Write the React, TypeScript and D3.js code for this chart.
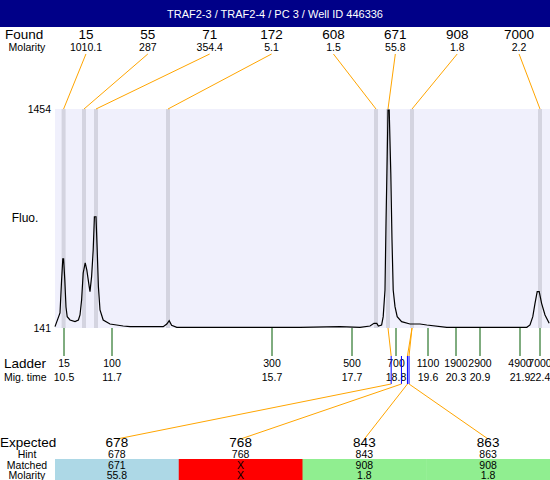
import React from "react";
import * as d3 from "d3";

const title = "TRAF2-3 / TRAF2-4 / PC 3 / Well ID 446336";
const foundSizes = ["15", "55", "71", "172", "608", "671", "908", "7000"];
const foundMolarity = ["1010.1", "287", "354.4", "5.1", "1.5", "55.8", "1.8", "2.2"];
const foundTimes = [10.49, 11.0, 11.3, 13.1, 18.3, 18.6, 19.2, 22.4];

const ladderSizes = [15, 100, 300, 500, 700, 1100, 1900, 2900, 4900, 7000];
const ladderTimes = [10.5, 11.7, 15.7, 17.7, 18.8, 19.6, 20.3, 20.9, 21.9, 22.4];
const ladderTimeLabels = ["10.5", "11.7", "15.7", "17.7", "18.8", "19.6", "20.3", "20.9", "21.9", "22.4"];

const expectedSizes = [678, 768, 843, 863];
const hintLabels = ["678", "768", "843", "863"];
const matchedLabels = ["671", "X", "908", "908"];
const matchedMolarity = ["55.8", "X", "1.8", "1.8"];
const matchedFoundIndex = [5, -1, 6, 6];
const matchColors = ["#ADD8E6", "#FF0000", "#90EE90", "#90EE90"];

const yTicks = [141, 1454];

const traceTimes = [
  10.275, 10.4, 10.44, 10.47, 10.49, 10.52, 10.55, 10.58, 10.65, 10.775, 10.86, 10.9, 10.94, 10.98,
  11.03, 11.07, 11.13, 11.15, 11.19, 11.23, 11.26, 11.3, 11.33, 11.36, 11.4, 11.48, 11.65, 11.98,
  12.15, 12.98, 13.07, 13.13, 13.19, 13.32, 13.9, 16.4, 17.4, 17.9, 18.15, 18.25, 18.32, 18.36,
  18.44, 18.48, 18.525, 18.55, 18.58, 18.6, 18.63, 18.67, 18.7, 18.73, 18.775, 18.83, 18.94, 19.15,
  19.4, 19.57, 20.07, 21.23, 22.07, 22.15, 22.22, 22.275, 22.33, 22.38, 22.44, 22.525, 22.63,
];
const traceFluo = [
  149, 231, 429, 555, 555, 429, 267, 209, 189, 179, 189, 219, 309, 471,
  531, 489, 389, 359, 449, 609, 808, 808, 609, 389, 249, 189, 165, 153,
  149, 149, 165, 185, 157, 145, 145, 145, 149, 145, 153, 169, 169, 153,
  159, 209, 369, 769, 1168, 1448, 1448, 1068, 669, 369, 269, 209, 179, 165,
  165, 159, 145, 145, 145, 159, 209, 289, 359, 359, 289, 219, 169,
];

const W = 550;
const H = 480;
const FONT = "'Liberation Sans', Arial, sans-serif";

export default function App() {
  const plotL = 55, plotR = 550, plotT = 109, plotB = 328;
  const x = d3.scaleLinear().domain([10.275, 22.65]).range([plotL, plotR]);
  const y = d3.scaleLinear().domain([141, 1454]).range([plotB, plotT]);
  const sizeToTime = d3.scaleLinear().domain(ladderSizes).range(ladderTimes);
  const foundBand = d3.scaleBand<number>().domain(d3.range(foundSizes.length)).range([plotL, plotR]);
  const expBand = d3.scaleBand<number>().domain(d3.range(expectedSizes.length)).range([plotL, plotR]);

  const pts: [number, number][] = traceTimes.map((t, i) => [t, traceFluo[i]]);
  const line = d3.line<[number, number]>().x((d) => x(d[0])).y((d) => y(d[1]));

  const blueTop = 356, blueBot = 384;
  const tableTop = 459;

  return (
    <svg width={W} height={H} style={{ position: "absolute", left: 0, top: 0, fontFamily: FONT }}>
      <rect x={0} y={0} width={W} height={H} fill="#fff" />
      <rect x={0} y={0} width={W} height={27} fill="#000088" />
      <text x={275} y={18} fill="#fff" fontSize={11} textAnchor="middle">{title}</text>

      <text x={5} y={39} fontSize={13.5}>Found</text>
      <text x={27} y={50.5} fontSize={10.5} textAnchor="middle">Molarity</text>
      {foundSizes.map((s, i) => {
        const cx = foundBand(i)! + foundBand.bandwidth() / 2;
        return (
          <g key={"f" + i}>
            <text x={cx} y={39} fontSize={13.5} textAnchor="middle">{s}</text>
            <text x={cx} y={50.5} fontSize={10.5} textAnchor="middle">{foundMolarity[i]}</text>
          </g>
        );
      })}

      <rect x={plotL} y={plotT} width={plotR - plotL} height={plotB - plotT} fill="#F0F0FC" />
      {foundTimes.map((t, i) => (
        <rect key={"b" + i} x={x(t) - 2} y={plotT} width={4} height={plotB - plotT} fill="#D4D4E0" />
      ))}
      <path d={line(pts)!} fill="none" stroke="#000" strokeWidth={1.2} />

      {foundTimes.map((t, i) => {
        const cx = foundBand(i)! + foundBand.bandwidth() / 2;
        return <line key={"o" + i} x1={cx} y1={54} x2={x(t)} y2={plotT} stroke="#FFA500" strokeWidth={1} />;
      })}

      {yTicks.map((v) => (
        <text key={"y" + v} x={51} y={y(v) + 4} fontSize={10.5} textAnchor="end">{v}</text>
      ))}
      <text x={25} y={222} fontSize={12} textAnchor="middle">Fluo.</text>

      {ladderTimes.map((t, i) => (
        <g key={"l" + i}>
          <line x1={x(t)} y1={plotB} x2={x(t)} y2={356} stroke="#005A00" strokeWidth={1} />
          <text x={x(t)} y={367} fontSize={10.5} textAnchor="middle">{ladderSizes[i]}</text>
          <text x={x(t)} y={381} fontSize={10.5} textAnchor="middle">{ladderTimeLabels[i]}</text>
        </g>
      ))}
      <text x={4} y={368} fontSize={13.5}>Ladder</text>
      <text x={4} y={381} fontSize={10.5}>Mig. time</text>

      {expectedSizes.map((s, i) => {
        const ex = x(sizeToTime(s));
        const cx = expBand(i)! + expBand.bandwidth() / 2;
        const fi = matchedFoundIndex[i];
        return (
          <g key={"e" + i}>
            {fi >= 0 && (
              <line x1={x(foundTimes[fi])} y1={plotB} x2={ex} y2={blueTop} stroke="#FFA500" strokeWidth={1} />
            )}
            <line x1={ex} y1={blueTop} x2={ex} y2={blueBot} stroke="#0000FF" strokeWidth={1} />
            <line x1={ex} y1={blueBot} x2={cx} y2={439} stroke="#FFA500" strokeWidth={1} />
          </g>
        );
      })}

      <text x={0} y={447} fontSize={13.5}>Expected</text>
      <text x={27} y={458} fontSize={10.5} textAnchor="middle">Hint</text>
      {expectedSizes.map((s, i) => {
        const bx = expBand(i)!;
        const cx = bx + expBand.bandwidth() / 2;
        return (
          <g key={"t" + i}>
            <rect x={bx} y={tableTop} width={expBand.bandwidth() + 0.5} height={H - tableTop} fill={matchColors[i]} />
            <text x={cx} y={447} fontSize={13.5} textAnchor="middle">{s}</text>
            <text x={cx} y={458} fontSize={10.5} textAnchor="middle">{hintLabels[i]}</text>
            <text x={cx} y={469} fontSize={10.5} textAnchor="middle">{matchedLabels[i]}</text>
            <text x={cx} y={479} fontSize={10.5} textAnchor="middle">{matchedMolarity[i]}</text>
          </g>
        );
      })}
      <text x={27} y={469} fontSize={10.5} textAnchor="middle">Matched</text>
      <text x={27} y={479} fontSize={10.5} textAnchor="middle">Molarity</text>
    </svg>
  );
}
